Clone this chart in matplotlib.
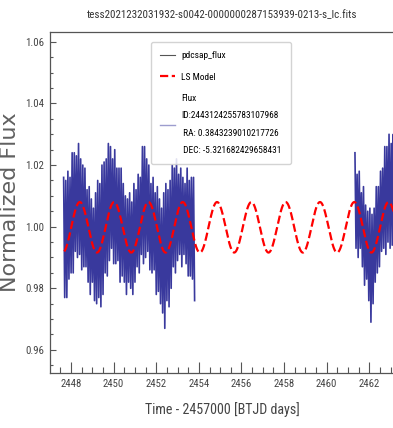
import matplotlib
matplotlib.use("Agg")
import matplotlib.pyplot as plt
from matplotlib import font_manager as fm
from matplotlib.lines import Line2D
from matplotlib.ticker import MultipleLocator
import numpy as np

# ---------------- data ----------------
title_text = "tess2021232031932-s0042-0000000287153939-0213-s_lc.fits"
xlabel_text = "Time - 2457000 [BTJD days]"
ylabel_text = "Normalized Flux"
legend_labels = ["pdcsap_flux", "LS Model",
                 "Flux\nID:2443124255783107968\n RA: 0.3843239010217726\n DEC: -5.321682429658431"]

# light curve, segment 1 (cadence 0.05 d, alternating high / low excursions)
seg1_start = 2447.65
seg1_flux = [
    1.016, 0.977, 1.015, 0.977, 1.018, 0.983, 1.016, 0.985, 1.024, 0.985,
    1.024, 0.992, 1.023, 0.990, 1.027, 0.991, 1.022, 0.986, 1.020, 0.987,
    1.019, 0.987, 1.012, 0.982, 1.013, 0.978, 1.009, 0.982, 1.006, 0.976,
    1.011, 0.975, 1.015, 0.977, 1.014, 0.974, 1.020, 0.978, 1.021, 0.985,
    1.022, 0.984, 1.027, 0.989, 1.026, 0.993, 1.022, 0.988, 1.025, 0.988,
    1.019, 0.989, 1.019, 0.982, 1.019, 0.984, 1.014, 0.982, 1.010, 0.978,
    1.009, 0.982, 1.011, 0.980, 1.008, 0.978, 1.014, 0.982, 1.012, 0.987,
    1.017, 0.985, 1.016, 0.991, 1.026, 0.988, 1.026, 0.990, 1.022, 0.992,
    1.020, 0.986, 1.014, 0.985, 1.016, 0.986, 1.011, 0.978, 1.013, 0.979,
    1.009, 0.975, 1.006, 0.972, 1.011, 0.967, 1.014, 0.976, 1.012, 0.974,
    1.015, 0.980, 1.020, 0.987, 1.019, 0.985, 1.022, 0.989, 1.017, 0.991,
    1.019, 0.987, 1.016, 0.991, 1.014, 0.988, 1.019, 0.984, 1.015, 0.984,
    1.016, 0.983, 1.016, 0.976,
]
# light curve, segment 2
seg2_start = 2461.33
seg2_flux = [
    1.024, 0.993, 1.017, 0.990, 1.018, 0.993, 1.011, 0.987, 1.013, 0.981,
    1.007, 0.983, 1.005, 0.976, 1.006, 0.969, 1.004, 0.975, 1.006, 0.982,
    1.013, 0.985, 1.013, 0.987, 1.018, 0.992, 1.019, 0.993, 1.026, 0.991,
    1.026, 0.995, 1.030, 0.993, 1.027, 0.994, 1.030, 0.993,
]
cadence = 0.05

# Lomb-Scargle model parameters
ls_period = 1.611
ls_t_peak = 2448.41
ls_amplitude = 0.0082
ls_offset = 0.9998
ls_t_range = (2447.68, 2463.3)

xlim = (2447.01, 2463.21)
ylim = (0.9525, 1.0632)

# ---------------- fonts ----------------
names = {f.name for f in fm.fontManager.ttflist}
if "Liberation Sans Narrow" in names:
    narrow, k = "Liberation Sans Narrow", 1.0
elif "Roboto Condensed" in names:
    narrow, k = "Roboto Condensed", 0.9
elif "Liberation Sans" in names:
    narrow, k = "Liberation Sans", 0.82
else:
    narrow, k = "DejaVu Sans", 0.72

W, H, DPI = 393, 428, 100
fig = plt.figure(figsize=(W / DPI, H / DPI), dpi=DPI)
ax = fig.add_axes([50 / W, 1 - 373 / H, (395 - 50) / W, (373 - 32) / H])

# light curve
t1 = seg1_start + cadence * np.arange(len(seg1_flux))
t2 = seg2_start + cadence * np.arange(len(seg2_flux))
data_color = "#16168c"
ax.plot(t1, seg1_flux, color=data_color, lw=1.2, alpha=0.85, zorder=2)
ax.plot(t2, seg2_flux, color=data_color, lw=1.2, alpha=0.85, zorder=2)

# LS model
tm = np.linspace(ls_t_range[0], ls_t_range[1], 2000)
model = ls_offset + ls_amplitude * np.cos(2 * np.pi * (tm - ls_t_peak) / ls_period)
h_model, = ax.plot(tm, model, color="red", ls="--", lw=1.6, zorder=3)

h_pdc = Line2D([], [], color="#555555", lw=0.8)
h_flux = Line2D([], [], color=data_color, lw=1.0, alpha=0.42)

ax.set_xlim(*xlim)
ax.set_ylim(*ylim)

ax.xaxis.set_major_locator(MultipleLocator(2))
ax.xaxis.set_minor_locator(MultipleLocator(0.5))
ax.yaxis.set_major_locator(MultipleLocator(0.02))
ax.yaxis.set_minor_locator(MultipleLocator(0.005))
ax.yaxis.set_major_formatter(matplotlib.ticker.FormatStrFormatter("%.2f"))

spine_c = "#555555"
for s in ax.spines.values():
    s.set_color(spine_c)
    s.set_linewidth(0.9)
ax.tick_params(axis="x", which="major", direction="in", length=8, width=0.8, color=spine_c, pad=4)
ax.tick_params(axis="x", which="minor", direction="in", length=4.5, width=0.8, color=spine_c)
ax.tick_params(axis="y", which="major", direction="in", length=4, width=0.8, color=spine_c, pad=4)
ax.tick_params(axis="y", which="minor", direction="in", length=2, width=0.8, color=spine_c)

tick_fs = 8.6 * k
for lab in ax.get_xticklabels() + ax.get_yticklabels():
    lab.set_fontfamily(narrow)
    lab.set_fontsize(tick_fs)
    lab.set_color("#444444")

ax.set_title(title_text, family=narrow, fontsize=8.8 * k, color="#333333", pad=10)
ax.set_xlabel(xlabel_text, family=narrow, fontsize=11.2 * k, color="#444444", labelpad=10)
ax.set_ylabel(ylabel_text, family="DejaVu Sans", fontsize=16, color="#606060", labelpad=4)

leg = ax.legend([h_pdc, h_model, h_flux], legend_labels,
                loc="upper left", bbox_to_anchor=(151 / W, 1 - 42 / H),
                bbox_transform=fig.transFigure, borderaxespad=0,
                prop={"family": narrow, "size": 7.5 * k},
                handlelength=1.6, handletextpad=0.6, labelspacing=1.3,
                borderpad=1.0, fancybox=True, framealpha=0.85, edgecolor="#cccccc")
leg.get_texts()[2].set_linespacing(2.2)
leg.set_zorder(5)

fig.savefig("out.png", dpi=DPI)
